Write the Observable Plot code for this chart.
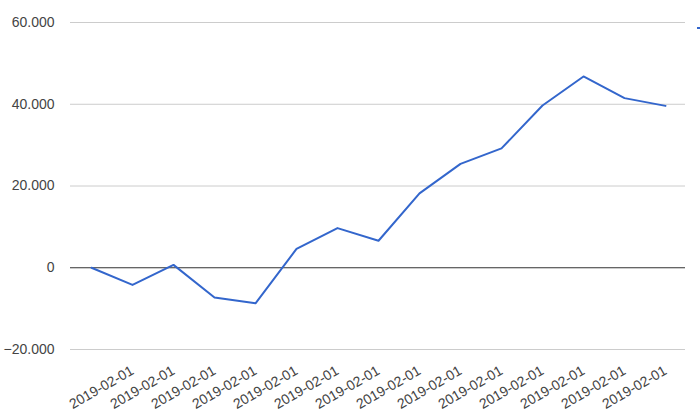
<!DOCTYPE html>
<html>
<head>
<meta charset="utf-8">
<script src="https://cdn.jsdelivr.net/npm/d3@7"></script>
<script src="https://cdn.jsdelivr.net/npm/@observablehq/plot@0.6"></script>
<style>
  html, body { margin: 0; padding: 0; background: #fff; overflow: hidden; }
  #wrap { position: relative; width: 700px; height: 420px; }
  #legend { position: absolute; left: 697px; top: 27px; width: 20px; height: 2px; background: #3366cc; }
</style>
</head>
<body>
<div id="wrap"><div id="chart"></div><div id="legend"></div></div>
<script>
// x categories (index) and their tick labels
const xIndex = [0, 1, 2, 3, 4, 5, 6, 7, 8, 9, 10, 11, 12, 13, 14];
const xLabels = ["", "2019-02-01", "2019-02-01", "2019-02-01", "2019-02-01", "2019-02-01", "2019-02-01", "2019-02-01",
                 "2019-02-01", "2019-02-01", "2019-02-01", "2019-02-01", "2019-02-01", "2019-02-01", "2019-02-01"];
// series values
const values = [0, -4200, 700, -7300, -8700, 4600, 9700, 6600, 18200, 25400, 29200, 39700, 46800, 41500, 39600];
// y tick values
const yTicks = [-20000, 0, 20000, 40000, 60000];

const data = xIndex.map((i) => ({i, v: values[i]}));
const fmt = (d) => d3.format(",")(d).replace(/,/g, ".");

const chart = Plot.plot({
  width: 700,
  height: 420,
  marginLeft: 70,
  marginRight: 15,
  marginTop: 22,
  marginBottom: 71,
  style: {fontFamily: "'Liberation Sans', Arial, sans-serif", fontSize: "14px", color: "#444", background: "#fff"},
  x: {type: "point", domain: xIndex, padding: 0.5, align: 0.5},
  y: {domain: [-20000, 60000]},
  marks: [
    Plot.gridY(yTicks.filter((d) => d !== 0), {stroke: "#cccccc", strokeOpacity: 1, strokeWidth: 1}),
    Plot.ruleY([0], {stroke: "#333333", strokeWidth: 1}),
    Plot.axisY(yTicks, {tickSize: 0, tickPadding: 16, tickFormat: fmt, label: null, fill: "#444", fontSize: 14}),
    Plot.axisX(xIndex, {tickSize: 0, tickPadding: 20, tickRotate: -30, tickFormat: (i) => xLabels[i], label: null, fill: "#444", fontSize: 14}),
    Plot.line(data, {x: "i", y: "v", stroke: "#3366cc", strokeWidth: 2})
  ]
});
document.getElementById("chart").appendChild(chart);
</script>
</body>
</html>
